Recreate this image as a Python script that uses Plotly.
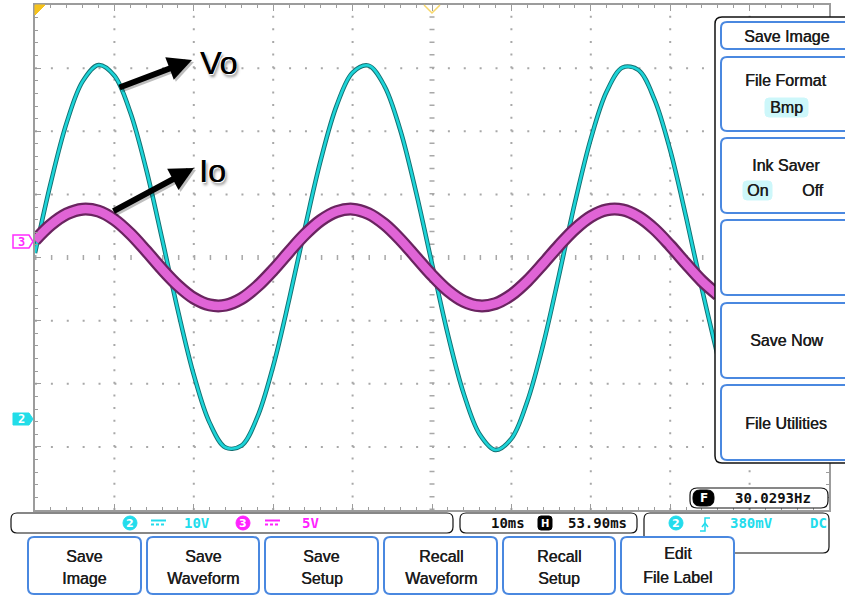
import plotly.graph_objects as go

t_ms = [0, 2, 4, 6, 8, 10, 12, 14, 16, 18, 20, 22, 24, 26, 28, 30, 32, 34, 36, 38, 40, 42,
        44, 46, 48, 50, 52, 54, 56, 58, 60, 62, 64, 66, 68, 70, 72, 74, 76, 78, 80, 82, 84, 86]
# CH2 (Vo), volts, 10 V/div
vo_volts = [0.7, 11.9, 21.4, 27.9, 30.5, 28.8, 23.0, 14.0, 3.0, -8.4, -18.6, -26.2, -30.1, -29.8,
            -25.3, -17.2, -6.7, 4.7, 15.5, 24.1, 29.3, 30.4, 27.2, 20.2, 10.3, -1.0, -12.2, -21.6,
            -28.0, -30.5, -28.7, -22.8, -13.8, -2.8, 8.7, 18.8, 26.3, 30.1, 29.7, 25.1, 17.0, 6.4,
            -5.0, -15.7]
# CH3 (Io), volts, 5 V/div
io_volts = [1.36, 2.59, 3.45, 3.83, 3.67, 2.99, 1.89, 0.52, -0.92, -2.22, -3.22, -3.76, -3.78,
            -3.26, -2.28, -0.99, 0.45, 1.83, 2.94, 3.64, 3.83, 3.48, 2.64, 1.43, 0.01, -1.40, -2.62,
            -3.47, -3.83, -3.65, -2.96, -1.86, -0.49, 0.95, 2.25, 3.24, 3.77, 3.77, 3.24, 2.26, 0.95,
            -0.49, -1.86, -2.96]

ch2_scale = "10V"
ch3_scale = "5V"
timebase = "10ms"
h_position = "53.90ms"
trig_level = "380mV"
trig_coupling = "DC"
frequency = "30.0293Hz"
bottom_buttons = [("Save", "Image"), ("Save", "Waveform"), ("Save", "Setup"),
                  ("Recall", "Waveform"), ("Recall", "Setup"), ("Edit", "File Label")]

# ---------------- helpers ----------------
W, H = 845, 595


def P(x, y):
    return x / W, 1 - y / H


def fp(x, y):
    a, b = P(x, y)
    return f"{a:.5f},{b:.5f}"


def rrect(x0, y0, x1, y1, r):
    return (f"M {fp(x0 + r, y0)} L {fp(x1 - r, y0)} Q {fp(x1, y0)} {fp(x1, y0 + r)} "
            f"L {fp(x1, y1 - r)} Q {fp(x1, y1)} {fp(x1 - r, y1)} L {fp(x0 + r, y1)} "
            f"Q {fp(x0, y1)} {fp(x0, y1 - r)} L {fp(x0, y0 + r)} Q {fp(x0, y0)} {fp(x0 + r, y0)} Z")


shapes = []
annos = []


def path(d, line="black", lw=1, fill=None, layer="above", dash=None):
    s = dict(type="path", path=d, xref="paper", yref="paper", layer=layer,
             line=dict(color=line, width=lw))
    if dash:
        s["line"]["dash"] = dash
    if fill:
        s["fillcolor"] = fill
    shapes.append(s)


def pline(x0, y0, x1, y1, color, lw=1, dash=None, layer="above"):
    a0, b0 = P(x0, y0)
    a1, b1 = P(x1, y1)
    s = dict(type="line", x0=a0, y0=b0, x1=a1, y1=b1, xref="paper", yref="paper",
             layer=layer, line=dict(color=color, width=lw))
    if dash:
        s["line"]["dash"] = dash
    shapes.append(s)


UI_SHADOW = "0.45px 0px 0px #1c1c1c"


def txt(x, y, s, size=16, color="#1c1c1c", family="Liberation Sans", weight="normal",
        xanchor="center", shadow=None):
    a, b = P(x, y)
    f = dict(size=size, color=color, family=family, weight=weight)
    if shadow:
        f["shadow"] = shadow
    annos.append(dict(x=a, y=b, xref="paper", yref="paper", text=s, showarrow=False,
                      xanchor=xanchor, yanchor="middle", font=f, borderpad=0))


def ui(x, y, s):
    txt(x, y, s, size=16, color="#1c1c1c", shadow=UI_SHADOW)


def arrow(tx, ty, hx, hy, color="black"):
    a, b = P(hx, hy)
    annos.append(dict(x=a, y=b, ax=tx - hx, ay=ty - hy, xref="paper", yref="paper",
                      axref="pixel", ayref="pixel", text="", showarrow=True, arrowhead=2,
                      arrowwidth=6, arrowsize=0.8, arrowcolor=color, standoff=0,
                      startstandoff=0))


# ---------------- traces ----------------
fig = go.Figure()
fig.add_trace(go.Scatter(x=t_ms, y=io_volts, yaxis="y2", mode="lines", hoverinfo="skip",
                         line=dict(color="#6a2460", width=13, shape="spline")))
fig.add_trace(go.Scatter(x=t_ms, y=io_volts, yaxis="y2", mode="lines", hoverinfo="skip",
                         line=dict(color="#e064d6", width=8.5, shape="spline")))
fig.add_trace(go.Scatter(x=t_ms, y=vo_volts, mode="lines", hoverinfo="skip",
                         line=dict(color="#137072", width=4.5, shape="spline")))
fig.add_trace(go.Scatter(x=t_ms, y=vo_volts, mode="lines", hoverinfo="skip",
                         line=dict(color="#1dd4d8", width=2.6, shape="spline")))

# ---------------- graticule ----------------
gcol = "#a8a8a8"
for gx in [10, 20, 30, 40, 60, 70, 80, 90]:
    shapes.append(dict(type="line", xref="x", yref="y", x0=gx, x1=gx, y0=-40, y1=40,
                       layer="below", line=dict(color=gcol, width=2, dash="2px,10.625px")))
for gy in [-30, -20, -10, 10, 20, 30]:
    shapes.append(dict(type="line", xref="x", yref="y", x0=0, x1=100, y0=gy, y1=gy,
                       layer="below", line=dict(color=gcol, width=2, dash="2px,13.88px")))
shapes.append(dict(type="line", xref="x", yref="y", x0=50, x1=50, y0=-40, y1=40,
                   layer="below", line=dict(color=gcol, width=5, dash="1.5px,11.125px")))
shapes.append(dict(type="line", xref="x", yref="y", x0=0, x1=100, y0=0, y1=0,
                   layer="below", line=dict(color=gcol, width=5, dash="1.5px,14.38px")))

# trigger / position markers
path(f"M {fp(35, 5)} L {fp(45, 5)} L {fp(35, 15)} Z", line="#f5c21c", lw=1, fill="#f5c21c")
path(f"M {fp(424, 5)} L {fp(432, 13)} L {fp(440, 5)}", line="#f7d76a", lw=1.5)

# channel markers
path(f"M {fp(13, 235)} L {fp(29, 235)} L {fp(33, 241.5)} L {fp(29, 248)} L {fp(13, 248)} Z",
     line="#ff2cff", lw=1.5, fill="white")
txt(21, 241.5, "3", size=12, color="#ff2cff", family="DejaVu Sans Mono", weight="bold")
path(f"M {fp(13, 413)} L {fp(29, 413)} L {fp(33, 419)} L {fp(29, 425)} L {fp(13, 425)} Z",
     line="#22dde8", lw=1, fill="#22dde8")
txt(21, 419, "2", size=12, color="white", family="DejaVu Sans Mono", weight="bold")

# ---------------- labels Vo / Io ----------------
arrow(120, 90, 194, 62, color="rgba(0,0,0,0.25)")
arrow(114, 214, 196, 170, color="rgba(0,0,0,0.25)")
arrow(118, 88, 192, 60)
arrow(112, 212, 194, 168)
tshadow = "0.5px 0px 0px #000, 1px 1px 0px #fff, -1px -1px 0px #fff, 2px 3px 3px #888"
txt(218, 63, "Vo", size=32, color="black", shadow=tshadow)
txt(212, 171, "Io", size=32, color="black", shadow=tshadow)

# ---------------- right menu ----------------
path(rrect(715, 17, 880, 463, 7), line="#111", lw=1.5, fill="white")
blue = "#4a88e0"
for (y0, y1) in [(22, 49), (57, 131), (138, 213), (220, 295), (303, 378), (385, 460)]:
    path(rrect(721, y0, 880, y1, 6), line=blue, lw=2, fill="white")
path(rrect(765, 98, 808, 117, 4), line="#cdf7fa", lw=1, fill="#cdf7fa")
path(rrect(743, 181, 772, 200, 4), line="#cdf7fa", lw=1, fill="#cdf7fa")
ui(786, 36, "Save Image")
ui(785, 81, "File Format")
ui(786, 107, "Bmp")
ui(786, 165, "Ink Saver")
ui(757, 190.5, "On")
ui(813, 190.5, "Off")
ui(786, 340, "Save Now")
ui(786, 423, "File Utilities")

# ---------------- frequency box ----------------
path(rrect(690, 488, 828, 508, 7), line="#111", lw=1.2, fill="white")
path(rrect(693, 490, 714, 506, 7), line="black", lw=1, fill="black")
txt(703.5, 498, "F", size=12, color="white", family="DejaVu Sans", weight="bold")
txt(773, 498, frequency, size=14, color="#111", family="DejaVu Sans Mono", weight="bold")

# ---------------- status bars ----------------
cyan_t = "#22dcec"
mag_t = "#ff22ff"
path(rrect(11, 513, 453, 533, 6), line="#111", lw=1.2, fill="white")
shapes.append(dict(type="circle", xref="paper", yref="paper", layer="above",
                   x0=P(123, 0)[0], x1=P(137, 0)[0], y0=P(0, 530)[1], y1=P(0, 516)[1],
                   fillcolor=cyan_t, line=dict(color=cyan_t, width=1)))
txt(130, 523, "2", size=11, color="white", family="DejaVu Sans", weight="bold")
pline(151, 520.5, 166, 520.5, cyan_t, 2)
pline(151, 524.5, 166, 524.5, cyan_t, 2, dash="3px,2px")
txt(197, 522.5, ch2_scale, size=14, color=cyan_t, family="DejaVu Sans Mono", weight="bold")
shapes.append(dict(type="circle", xref="paper", yref="paper", layer="above",
                   x0=P(236, 0)[0], x1=P(250, 0)[0], y0=P(0, 530)[1], y1=P(0, 516)[1],
                   fillcolor=mag_t, line=dict(color=mag_t, width=1)))
txt(243, 523, "3", size=11, color="white", family="DejaVu Sans", weight="bold")
pline(265, 520.5, 280, 520.5, mag_t, 2)
pline(265, 524.5, 280, 524.5, mag_t, 2, dash="3px,2px")
txt(310, 522.5, ch3_scale, size=14, color=mag_t, family="DejaVu Sans Mono", weight="bold")

path(rrect(460, 513, 637, 533, 6), line="#111", lw=1.2, fill="white")
txt(508, 522.5, timebase, size=14, color="#111", family="DejaVu Sans Mono", weight="bold")
path(rrect(538, 516, 552, 530, 3), line="black", lw=1, fill="black")
txt(545, 523, "H", size=10, color="white", family="DejaVu Sans", weight="bold")
txt(597, 522.5, h_position, size=14, color="#111", family="DejaVu Sans Mono", weight="bold")

path(rrect(644, 513, 829, 553, 6), line="#111", lw=1.2, fill="white")
shapes.append(dict(type="circle", xref="paper", yref="paper", layer="above",
                   x0=P(669, 0)[0], x1=P(683, 0)[0], y0=P(0, 530)[1], y1=P(0, 516)[1],
                   fillcolor=cyan_t, line=dict(color=cyan_t, width=1)))
txt(676, 523, "2", size=11, color="white", family="DejaVu Sans", weight="bold")
path(f"M {fp(700, 531)} L {fp(705, 531)} L {fp(705, 518)} L {fp(710, 518)}", line=cyan_t, lw=1.5)
path(f"M {fp(702, 527)} L {fp(705, 523)} L {fp(708, 527)}", line=cyan_t, lw=1.5)
txt(751, 522.5, trig_level, size=14, color=cyan_t, family="DejaVu Sans Mono", weight="bold")
txt(828, 522.5, trig_coupling, size=14, color=cyan_t, family="DejaVu Sans Mono", weight="bold",
    xanchor="right")

# ---------------- bottom soft keys ----------------
bx = [(28, 141), (147, 259), (265, 378), (384, 497), (503, 615), (621, 734)]
for (x0, x1), (l1, l2) in zip(bx, bottom_buttons):
    path(rrect(x0, 537, x1, 594, 6), line=blue, lw=2, fill="white")
    cx = (x0 + x1) / 2
    if l1 == "Edit":
        ui(cx, 553, l1)
        ui(cx, 577, l2)
    else:
        ui(cx, 556, l1)
        ui(cx, 578, l2)

# ---------------- layout ----------------
axcol = "#9c9c9c"
fig.update_layout(
    width=W, height=H, margin=dict(l=0, r=0, t=0, b=0),
    paper_bgcolor="white", plot_bgcolor="white", showlegend=False,
    xaxis=dict(domain=[35 / W, 829 / W], range=[0, 100], showgrid=False, zeroline=False,
               showline=True, linecolor=axcol, linewidth=2, mirror="ticks",
               ticks="inside", ticklen=6, tickcolor=axcol, tickwidth=1, tick0=0, dtick=10,
               minor=dict(ticks="inside", ticklen=3, tickcolor=axcol, dtick=2, showgrid=False),
               showticklabels=False, fixedrange=True),
    yaxis=dict(domain=[1 - 510 / H, 1 - 5 / H], range=[-40, 40], showgrid=False, zeroline=False,
               showline=True, linecolor=axcol, linewidth=2, mirror="ticks",
               ticks="inside", ticklen=6, tickcolor=axcol, tickwidth=1, tick0=0, dtick=10,
               minor=dict(ticks="inside", ticklen=3, tickcolor=axcol, dtick=2, showgrid=False),
               showticklabels=False, fixedrange=True),
    yaxis2=dict(overlaying="y", range=[-20, 20], visible=False, fixedrange=True),
    shapes=shapes, annotations=annos,
)

fig.write_html("out.html")
